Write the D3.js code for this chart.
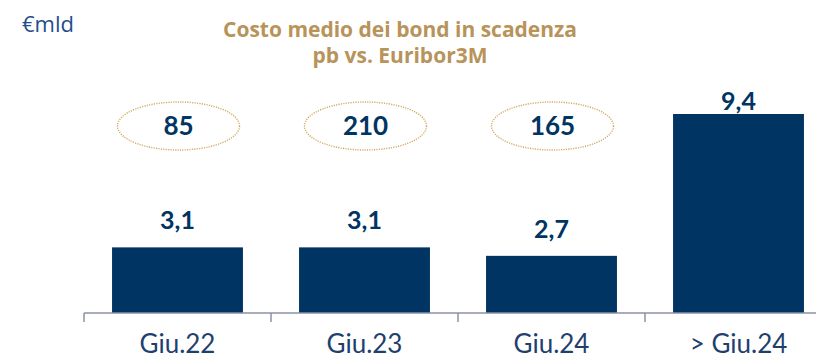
<!DOCTYPE html>
<html>
<head>
<meta charset="utf-8">
<script src="https://cdn.jsdelivr.net/npm/d3@7/dist/d3.min.js"></script>
<style>
  html, body { margin: 0; padding: 0; background: #fff; }
  svg { display: block; }
</style>
</head>
<body>
<svg id="chart" width="816" height="359"></svg>
<script>
// Bond maturities (€ billion) and average spread over Euribor 3M (bp)
const categories = ["Giu.22", "Giu.23", "Giu.24", "> Giu.24"];
const amounts = [3.1, 3.1, 2.7, 9.4];
const spreads = [85, 210, 165, null];
const titleLines = ["Costo medio dei bond in scadenza", "pb vs. Euribor3M"];
const unitLabel = "€mld";

const fmt = v => d3.format(".1f")(v).replace(".", ",");

const svg = d3.select("#chart");
const W = 816, H = 359;
const baseY = 313;

const x = d3.scaleBand()
  .domain(categories)
  .range([84, 832])
  .paddingInner(0.3)
  .paddingOuter(0.15);

const y = d3.scaleLinear()
  .domain([0, 9.4])
  .range([baseY, 114]);

const navy = "#003462";
const gold = "#b8935a";

// unit label
svg.append("text")
  .attr("x", 22).attr("y", 32)
  .attr("font-family", "'Open Sans', Lato, sans-serif")
  .attr("font-size", 22)
  .attr("fill", "#1f4e8c")
  .text(unitLabel);

// title
svg.append("g").selectAll("text")
  .data(titleLines)
  .join("text")
  .attr("x", 400)
  .attr("y", (d, i) => 37 + i * 26)
  .attr("text-anchor", "middle")
  .attr("font-family", "'Open Sans', Lato, sans-serif")
  .attr("font-weight", "bold")
  .attr("font-size", 21)
  .attr("fill", gold)
  .text(d => d);

// bars
svg.append("g").selectAll("rect")
  .data(amounts)
  .join("rect")
  .attr("x", (d, i) => x(categories[i]))
  .attr("width", x.bandwidth())
  .attr("y", d => y(d))
  .attr("height", d => baseY - y(d))
  .attr("fill", navy);

// value labels above bars
svg.append("g").selectAll("text")
  .data(amounts)
  .join("text")
  .attr("x", (d, i) => x(categories[i]) + x.bandwidth() / 2)
  .attr("y", d => Math.max(y(d) - 18, 110))
  .attr("text-anchor", "middle")
  .attr("font-family", "Lato, 'Open Sans', sans-serif")
  .attr("font-weight", "bold")
  .attr("font-size", 25)
  .attr("fill", navy)
  .text(d => fmt(d));

// spread ellipses
const sp = svg.append("g").selectAll("g")
  .data(spreads.map((s, i) => ({ s, c: categories[i] })).filter(d => d.s != null))
  .join("g")
  .attr("transform", d => `translate(${x(d.c) + x.bandwidth() / 2 + 1},126)`);

sp.append("ellipse")
  .attr("rx", 61).attr("ry", 24)
  .attr("fill", "none")
  .attr("stroke", "#d2aa64")
  .attr("stroke-width", 1.4)
  .attr("stroke-dasharray", "1.2 1.2");

sp.append("text")
  .attr("y", 9)
  .attr("text-anchor", "middle")
  .attr("font-family", "Lato, 'Open Sans', sans-serif")
  .attr("font-weight", "bold")
  .attr("font-size", 26)
  .attr("fill", navy)
  .text(d => d.s);

// category axis
const axisG = svg.append("g").attr("transform", `translate(0,${baseY})`);
axisG.append("line")
  .attr("x1", 84).attr("x2", W)
  .attr("stroke", "#8c91a6").attr("stroke-width", 1.5);

const step = x.step();
const tickXs = categories.map(c => x(c) - (step - x.bandwidth()) / 2);
axisG.selectAll("line.tick")
  .data(tickXs)
  .join("line")
  .attr("class", "tick")
  .attr("x1", d => d).attr("x2", d => d)
  .attr("y1", 0).attr("y2", 9)
  .attr("stroke", "#8c91a6").attr("stroke-width", 1.5);

axisG.selectAll("text")
  .data(categories)
  .join("text")
  .attr("x", d => x(d) + x.bandwidth() / 2)
  .attr("y", 40)
  .attr("text-anchor", "middle")
  .attr("font-family", "Lato, 'Open Sans', sans-serif")
  .attr("font-size", 26)
  .attr("fill", "#1f3f6e")
  .text(d => d);
</script>
</body>
</html>
